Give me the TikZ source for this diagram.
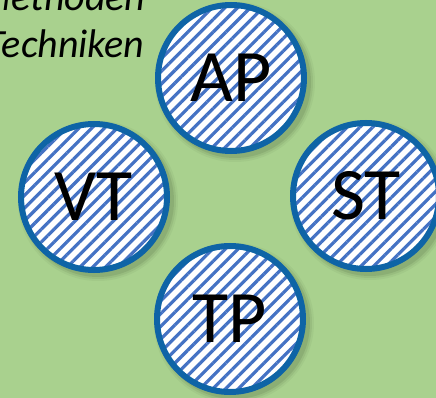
\documentclass[tikz,border=0pt]{standalone}
\usepackage{fontspec}
\setmainfont{Carlito}
\usetikzlibrary{patterns.meta}
\definecolor{bggreen}{RGB}{169,209,142}
\definecolor{ringblue}{RGB}{14,100,166}
\definecolor{stripeblue}{RGB}{68,114,196}
\definecolor{shadowgreen}{RGB}{40,60,30}

\begin{document}
\begin{tikzpicture}[x=1pt, y=-1pt,
    bubble/.style={circle, inner sep=0pt, minimum size=146pt, line width=6pt,
      draw=ringblue, preaction={fill=white},
      pattern={Lines[angle=45, distance=9pt, line width=3.2pt]},
      pattern color=stripeblue, font=\fontsize{74}{74}\selectfont},
    sidetext/.style={anchor=base east, font=\itshape\fontsize{40}{47}\selectfont}]
  % Background and frame.
  \fill[bggreen] (0,0) rectangle (436,398);
  \useasboundingbox (0,0) rectangle (436,398);

  % Centres of the bubbles.
  \coordinate (apc) at (231,78);
  \coordinate (vtc) at (94,197);
  \coordinate (stc) at (366,196);
  \coordinate (tpc) at (230,319);

  % Draw soft shadows.
  \foreach \c in {apc,vtc,stc,tpc}
    \foreach \r/\o in {80/0.05, 78/0.08, 76/0.11}
      \fill[shadowgreen, opacity=\o] ([shift={(4,4)}]\c) circle (\r);

  % Draw bubbles.
  \node[bubble] (ap) at (apc) {AP};
  \node[bubble] (vt) at (vtc) {VT};
  \node[bubble] (st) at (stc) {ST};
  \node[bubble] (tp) at (tpc) {TP};

  % Side text.
  \node[sidetext] (meth) at (149,11) {Methoden};
  \node[sidetext] (tech) at (148,58) {Techniken};
\end{tikzpicture}
\end{document}
